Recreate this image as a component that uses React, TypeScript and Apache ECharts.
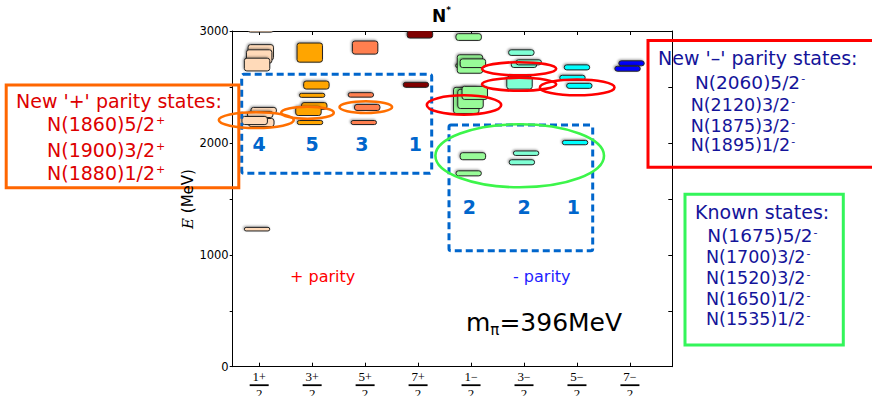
import React, { useEffect, useRef } from 'react';
import * as echarts from 'echarts';

// ---------- data ----------
const categories = ['1/2+', '3/2+', '5/2+', '7/2+', '1/2-', '3/2-', '5/2-', '7/2-'];
const numerators = ['1', '3', '5', '7', '1', '3', '5', '7'];
const parities = ['+', '+', '+', '+', '−', '−', '−', '−'];
const xTickValues = [0, 1, 2, 3, 4, 5, 6, 7];
const yTickLabels = [0, 1000, 2000, 3000];

// each level: [offset within column, E (MeV), uncertainty height (MeV)]
const levels12p = [[0.03, 3010, 40], [0.03, 2809, 138], [0.0, 2772, 120], [-0.04, 2700, 114], [0.04, 2182, 72], [0.085, 2290, 54], [0.02, 2254, 54], [-0.085, 2200, 72], [-0.04, 1229, 32]];
const levels32p = [[-0.045, 2807, 171], [0.08, 2517, 72], [0, 2425, 36], [0.04, 2330, 60], [-0.07, 2285, 80], [-0.04, 2182, 36]];
const levels52p = [[0, 2852, 117], [-0.08, 2429, 40], [0.04, 2317, 54], [-0.025, 2182, 36]];
const levels72p = [[0.035, 2970, 66], [-0.04, 2519, 45]];
const levels12m = [[-0.045, 2946, 60], [-0.05, 2690, 36], [-0.02, 2705, 165], [0.035, 2712, 77], [-0.09, 2380, 234], [-0.01, 2393, 171], [0.07, 2447, 117], [0.035, 1881, 63], [-0.045, 1728, 45]];
const levels32m = [[-0.05, 2807, 50], [0, 2698, 48], [0.09, 2720, 45], [-0.085, 2538, 114], [0.04, 1908, 40], [-0.04, 1827, 45]];
const levels52m = [[0, 2675, 45], [-0.085, 2582, 45], [0.045, 2510, 45], [-0.035, 2003, 39]];
const levels72m = [[0.03, 2711, 45], [-0.045, 2663, 45]];
const levelsByColumn = [levels12p, levels32p, levels52p, levels72p, levels12m, levels32m, levels52m, levels72m];

// counted new states annotation: [x, E, label]
const countLabels = ['4', '5', '3', '1', '2', '2', '1'];
const countX = [0, 1, 1.94, 2.95, 3.97, 5.0, 5.93];
const countE = [1990, 1990, 1990, 1990, 1430, 1430, 1430];

const yAxisTitle = '{e|E} (MeV)';
const plusTitle = "New '+' parity states:";
const plusStates = ['N(1860)5/2', 'N(1900)3/2', 'N(1880)1/2'];
const minusTitle = "New '–' parity states:";
const minusStates = ['N(2060)5/2', 'N(2120)3/2', 'N(1875)3/2', 'N(1895)1/2'];
const knownTitle = 'Known states:';
const knownStates = ['N(1675)5/2', 'N(1700)3/2', 'N(1520)3/2', 'N(1650)1/2', 'N(1535)1/2'];

// ---------- styles ----------
const FONT = 'DejaVu Sans';
const SERIF = 'Liberation Serif';
const columnColors = ['#FFDAB9', '#FFA500', '#FF7F50', '#800000', '#98FB98', '#7FFFD4', '#00FFFF', '#0000FF'];
const BOX_W = 0.48;
const RED_TXT = '#DD0000';
const NAVY = '#14149A';
const DASH_BLUE = '#0066CC';

function txt(x: number, y: number, text: string, rich: any) {
  return { type: 'text', x, y, z: 200, silent: true, style: { text, rich, align: 'left', verticalAlign: 'middle' } };
}
function supLine(x: number, y: number, main: string, sup: string, color: string, size: number) {
  return txt(x, y, `{a|${main}}{s|${sup}}`, {
    a: { fontSize: size, fontFamily: FONT, fill: color, lineHeight: size + 4 },
    s: { fontSize: 11, fontFamily: FONT, fill: color, lineHeight: 11, verticalAlign: 'middle', padding: [0, 0, 7, 1] },
  });
}
function ellipse(cx: number, cy: number, rx: number, ry: number, color: string) {
  return { type: 'ellipse', z: 150, silent: true, shape: { cx, cy, rx, ry }, style: { fill: 'transparent', stroke: color, lineWidth: 2.6 } };
}
function frame(x: number, y: number, w: number, h: number, color: string, dashed = false) {
  return {
    type: 'rect', z: 140, silent: true, shape: { x, y, width: w, height: h, r: dashed ? 2 : 0 },
    style: { fill: 'transparent', stroke: color, lineWidth: 3, lineDash: dashed ? [7, 4] : null },
  };
}

export default function App() {
  const ref = useRef<HTMLDivElement>(null);
  useEffect(() => {
    if (!ref.current) return;
    const chart = echarts.init(ref.current, undefined, { renderer: 'svg' });

    const boxSeries = levelsByColumn.map((levels, ci) => ({
      type: 'custom',
      name: categories[ci],
      xAxisIndex: 0,
      yAxisIndex: 0,
      clip: true,
      z: 2,
      encode: { x: 0, y: 1 },
      data: levels.map(([dx, e, de]) => [ci + dx, e, de]),
      renderItem: (params: any, api: any) => {
        const c = api.coord([api.value(0), api.value(1)]);
        const s = api.size([BOX_W, api.value(2)]);
        return {
          type: 'rect',
          shape: { x: c[0] - s[0] / 2, y: c[1] - s[1] / 2, width: s[0], height: s[1], r: 2.5 },
          style: {
            fill: columnColors[ci], stroke: '#222', lineWidth: 1,
            shadowColor: 'rgba(0,0,0,0.35)', shadowBlur: 2, shadowOffsetX: -1, shadowOffsetY: -1,
          },
        };
      },
    }));

    const graphic: any[] = [
      // y axis title
      {
        type: 'text', x: 187.5, y: 199, rotation: Math.PI / 2, z: 200, silent: true,
        style: {
          text: yAxisTitle, align: 'center', verticalAlign: 'middle',
          rich: {
            e: { fontFamily: 'DejaVu Serif', fontStyle: 'italic', fontSize: 15, fill: '#000' },
          },
          fontSize: 15, fontFamily: FONT, fill: '#000',
        },
      },
      // title N*
      txt(432, 15.5, '{n|N}{s|*}', {
        n: { fontSize: 17, fontFamily: FONT, fontWeight: 'bold', fill: '#000', lineHeight: 20 },
        s: { fontSize: 9, fontFamily: FONT, fontWeight: 'bold', fill: '#000', lineHeight: 9, verticalAlign: 'top' },
      }),
      // dashed group boxes
      frame(241.7, 74.3, 190, 99, DASH_BLUE, true),
      frame(449, 125, 143.7, 125.7, DASH_BLUE, true),
      // ellipses
      ellipse(256.3, 120.1, 37.5, 7.9, '#FF6F00'),
      ellipse(307.5, 112.8, 26.3, 6.0, '#FF6F00'),
      ellipse(365.8, 107.1, 26.3, 5.9, '#FF6F00'),
      ellipse(519.1, 68.8, 37.1, 6.6, '#FF0000'),
      ellipse(519.1, 84.3, 37.1, 6.5, '#FF0000'),
      ellipse(577.2, 87.4, 37.3, 7.9, '#FF0000'),
      ellipse(464, 105, 37.2, 9.7, '#FF0000'),
      ellipse(519.7, 155.8, 84.3, 31.5, '#3CF54A'),
      // text frames
      frame(6.2, 85, 232.6, 102.8, '#FF6600'),
      frame(648, 40.5, 240, 126.7, '#FF0000'),
      frame(685, 194.3, 158.3, 150.7, '#33F55A'),
      // orange box texts
      txt(16, 100.5, `{t|${plusTitle}}`, { t: { fontSize: 19, fontFamily: FONT, fill: RED_TXT } }),
      ...plusStates.map((s, k) => supLine(47, [124.3, 149.7, 172.5][k], s, '+', RED_TXT, 19)),
      // red box texts
      txt(658, 58.3, `{t|${minusTitle}}`, { t: { fontSize: 19, fontFamily: FONT, fill: NAVY } }),
      ...minusStates.map((s, k) => supLine(k === 0 ? 695 : 690.7, [82, 104.5, 125.5, 145.3][k], s, '-', NAVY, k === 0 ? 18.5 : 17.5)),
      // green box texts
      txt(695, 212.2, `{t|${knownTitle}}`, { t: { fontSize: 19, fontFamily: FONT, fill: NAVY } }),
      ...knownStates.map((s, k) => supLine(k === 0 ? 707.3 : 706, [235.5, 257.2, 277.8, 298.7, 319.2][k], s, '-', NAVY, k === 0 ? 18.5 : 17.5)),
      // parity labels
      txt(290, 276, '{t|+ parity}', { t: { fontSize: 16, fontFamily: FONT, fill: '#FF0000' } }),
      txt(513, 276, '{t|- parity}', { t: { fontSize: 16, fontFamily: FONT, fill: '#1E1EFF' } }),
      // pion mass
      txt(466, 322, '{m|m}{s|π}{m|=396MeV}', {
        m: { fontSize: 25, fontFamily: FONT, fill: '#000', lineHeight: 30 },
        s: { fontSize: 15, fontFamily: FONT, fill: '#000', lineHeight: 8, verticalAlign: 'bottom' },
      }),
    ];

    const fracRich = {
      num: { fontFamily: SERIF, fontSize: 13, lineHeight: 12, color: '#000' },
      sup: { fontFamily: SERIF, fontSize: 12, lineHeight: 8, verticalAlign: 'top', color: '#000' },
      bar: { width: 19, height: 1.8, lineHeight: 5, backgroundColor: '#000' },
      den: { fontFamily: SERIF, fontSize: 13, lineHeight: 12, color: '#000' },
    };

    const option: any = {
      animation: false,
      backgroundColor: '#ffffff',
      grid: { left: 232.7, right: 199.7, top: 31, bottom: 29.3, containLabel: false, outerBoundsMode: 'none' },
      xAxis: [
        {
          type: 'value', min: -0.5, max: 7.8, position: 'bottom',
          axisLine: { show: true, onZero: false, lineStyle: { color: '#000', width: 1 } },
          axisTick: { show: true, inside: true, length: 4, customValues: xTickValues, lineStyle: { color: '#000' } },
          axisLabel: {
            show: true, customValues: xTickValues, margin: 4,
            formatter: (v: number) => {
              const i = Math.round(v);
              return `{num|${numerators[i]}}{sup|${parities[i]}}\n{bar|}\n{den|2}`;
            },
            rich: fracRich,
          },
          splitLine: { show: false },
        },
        {
          type: 'value', min: -0.5, max: 7.8, position: 'top',
          axisLine: { show: true, onZero: false, lineStyle: { color: '#000', width: 1 } },
          axisTick: { show: true, inside: true, length: 4, customValues: xTickValues, lineStyle: { color: '#000' } },
          axisLabel: { show: false },
          splitLine: { show: false },
        },
      ],
      yAxis: [
        {
          type: 'value', min: 0, max: 3000, interval: 500, position: 'left',
          axisLine: { show: true, onZero: false, lineStyle: { color: '#000', width: 1 } },
          axisTick: { show: true, inside: false, length: 3, lineStyle: { color: '#000' } },
          axisLabel: {
            customValues: yTickLabels, fontSize: 11.5, fontFamily: FONT, color: '#000', margin: 4,
            formatter: (v: number) => String(v),
          },
          splitLine: { show: false },
        },
        {
          type: 'value', min: 0, max: 3000, interval: 500, position: 'right',
          axisLine: { show: true, onZero: false, lineStyle: { color: '#000', width: 1 } },
          axisTick: { show: true, inside: true, length: 4, lineStyle: { color: '#000' } },
          axisLabel: { show: false },
          splitLine: { show: false },
        },
      ],
      series: [
        ...boxSeries,
        {
          type: 'scatter', name: 'counts', xAxisIndex: 0, yAxisIndex: 0, z: 5, silent: true,
          symbolSize: 1, itemStyle: { color: 'transparent', opacity: 1 },
          data: countX.map((x, k) => [x, countE[k], countLabels[k]]),
          label: {
            show: true, position: 'inside', formatter: (p: any) => p.value[2],
            color: DASH_BLUE, fontSize: 19, fontWeight: 'bold', fontFamily: FONT, opacity: 1,
          },
        },
      ],
      graphic,
    };
    chart.setOption(option);
    return () => chart.dispose();
  }, []);
  return <div ref={ref} style={{ position: 'absolute', left: 0, top: 0, width: 872, height: 396 }} />;
}
